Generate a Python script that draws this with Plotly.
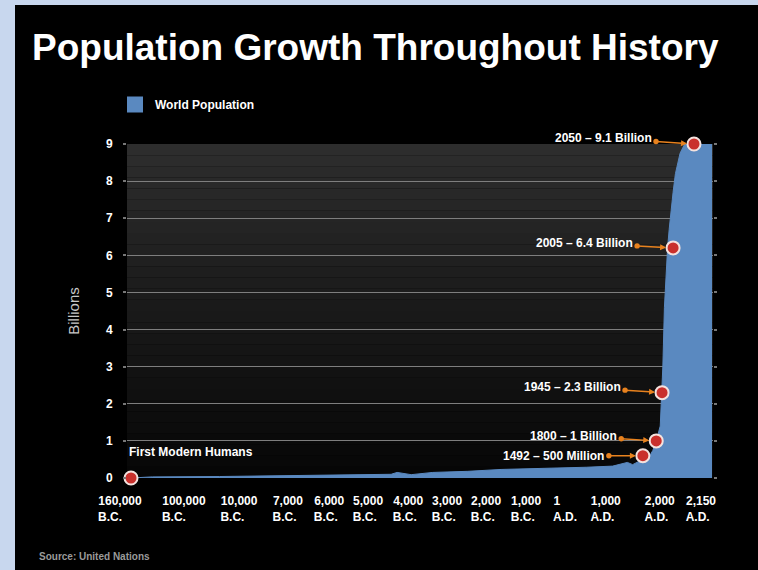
import numpy as np
import plotly.graph_objects as go

# ---------------- data ----------------
# Tick labels on the timeline axis
tick_years = [-160000, -100000, -10000, -7000, -6000, -5000, -4000,
              -3000, -2000, -1000, 1, 1000, 2000, 2150]
tick_line1 = ["160,000", "100,000", "10,000", "7,000", "6,000", "5,000", "4,000",
              "3,000", "2,000", "1,000", "1", "1,000", "2,000", "2,150"]
tick_line2 = ["B.C.", "B.C.", "B.C.", "B.C.", "B.C.", "B.C.", "B.C.",
              "B.C.", "B.C.", "B.C.", "A.D.", "A.D.", "A.D.", "A.D."]

# World population (billions) by year (negative = B.C.)
pop_years = [-160000, -140000, -60000, -7750, -5650, -4700, -4550, -4200, -3650,
             -2750, -1900, -650, 250, 900, 1200, 1300, 1492, 1650, 1720, 1800,
             1900, 1945, 1950, 1960, 1970, 1980, 1990, 2000, 2005, 2010, 2020,
             2030, 2050, 2150]
pop_values = [0.0, 0.03, 0.04, 0.06, 0.07, 0.10, 0.15, 0.09, 0.15,
              0.18, 0.23, 0.26, 0.29, 0.32, 0.42, 0.36, 0.50, 0.60, 0.74, 1.0,
              1.4, 2.3, 3.0, 4.6, 5.6, 6.2, 6.7, 7.2, 7.7, 8.2, 8.75,
              9.0, 9.0, 9.0]

# Highlighted milestones
milestone_years = [-160000, 1492, 1800, 1945, 2005, 2050]
milestone_values = [0.0, 0.6, 1.0, 2.3, 6.2, 9.0]
milestone_labels = ["First Modern Humans", "1492 – 500 Million", "1800 – 1 Billion",
                    "1945 – 2.3 Billion", "2005 – 6.4 Billion", "2050 – 9.1 Billion"]

# ---------------- non-linear timeline axis scale ----------------
# year -> timeline position (0 .. 100), piecewise linear like the original chart
scale_years = [-160000, -100000, -10000, -7000, -6000, -5000, -4000, -3000, -2000,
               -1000, 1, 1000, 1492, 1800, 1945, 2000, 2005, 2050, 2150]
scale_pos = [0.0, 11.0, 20.5, 28.9, 36.0, 42.7, 49.6, 56.3, 63.0,
             69.9, 76.6, 83.6, 88.1, 90.4, 91.4, 92.9, 93.3, 96.9, 100.0]


def tpos(years):
    return np.interp(np.asarray(years, dtype=float), scale_years, scale_pos)


# ---------------- layout geometry ----------------
W, H = 758, 570
L, R, T, B = 127, 45, 144, 92
PW, PH = W - L - R, H - T - B


def pxx(px):
    return (px - L) / PW


def pxy(py):
    return (H - B - py) / PH


FONT = "Liberation Sans, Arial, sans-serif"
BLUE = "#5a89c0"
ORANGE = "#e8821e"

# build left-aligned two-line tick labels (pad with no-break spaces)
char_w = {**{d: 0.556 for d in "0123456789"}, ",": 0.278, ".": 0.278,
          "B": 0.722, "C": 0.722, "A": 0.722, "D": 0.722}
nb_w = 0.278


def width(s):
    return sum(char_w.get(c, 0.556) for c in s)


ticktext = []
for a, b in zip(tick_line1, tick_line2):
    wa, wb = width(a), width(b)
    if wa > wb:
        b = b + "\u00a0" * int(round((wa - wb) / nb_w))
    else:
        a = a + "\u00a0" * int(round((wb - wa) / nb_w))
    ticktext.append(a + "<br>" + b)

tickvals = list(tpos(tick_years))

fig = go.Figure()

fig.add_trace(go.Scatter(
    x=tpos(pop_years), y=pop_values, mode="lines", fill="tozeroy",
    fillcolor=BLUE, line=dict(color=BLUE, width=1), showlegend=False,
    hoverinfo="skip"))

# legend swatch
fig.add_trace(go.Scatter(
    x=[None], y=[None], mode="markers", name="World Population",
    marker=dict(symbol="square", size=16, color=BLUE)))

fig.add_trace(go.Scatter(
    x=tpos(milestone_years), y=milestone_values, mode="markers",
    marker=dict(size=13, color="#c9302c", line=dict(color="#f4e2de", width=2)),
    showlegend=False, cliponaxis=False, hoverinfo="skip"))

# gradient plot background
shapes = []
n = 30
top_c = np.array([0x2e, 0x2e, 0x2e])
bot_c = np.array([0x06, 0x06, 0x06])
for i in range(n):
    f = (i + 0.5) / n
    c = (bot_c + (top_c - bot_c) * f).astype(int)
    shapes.append(dict(type="rect", xref="paper", yref="paper",
                       x0=0, x1=1, y0=i / n, y1=(i + 1) / n,
                       fillcolor="rgb(%d,%d,%d)" % tuple(c), line=dict(width=0),
                       layer="below"))
# slide border (light blue)
shapes.append(dict(type="rect", xref="paper", yref="paper",
                   x0=pxx(0), x1=pxx(15), y0=pxy(H), y1=pxy(0),
                   fillcolor="#c8d7ee", line=dict(width=0), layer="below"))
shapes.append(dict(type="rect", xref="paper", yref="paper",
                   x0=pxx(0), x1=pxx(W), y0=pxy(5), y1=pxy(0),
                   fillcolor="#c8d7ee", line=dict(width=0), layer="below"))

annotations = []
# arrow offsets (pixels) from each milestone to its label
offsets = {1492: (-89, 0), 1800: (-83, -5), 1945: (-90, -6), 2005: (-89, -5), 2050: (-91, -6)}
for yr, val, lab in zip(milestone_years, milestone_values, milestone_labels):
    if yr in offsets:
        ax, ay = offsets[yr]
        annotations.append(dict(
            x=float(tpos([yr])[0]), y=val, xref="x", yref="y", text="<b>%s</b>" % lab,
            showarrow=True, ax=ax, ay=ay, arrowcolor=ORANGE, arrowwidth=1.5,
            arrowhead=2, arrowsize=0.8, standoff=7, arrowside="end+start",
            startarrowhead=6, startarrowsize=0.9, startstandoff=3,
            font=dict(family=FONT, size=12, color="white")))
    else:
        annotations.append(dict(
            x=float(tpos([yr])[0]), y=val, xref="x", yref="y", text="<b>%s</b>" % lab,
            showarrow=False, xanchor="left", yanchor="middle", xshift=-4, yshift=26,
            font=dict(family=FONT, size=12, color="white")))

annotations.append(dict(
    x=pxx(37), y=pxy(556), xref="paper", yref="paper", xanchor="left", yanchor="middle",
    text="<b>Source: United Nations</b>", showarrow=False,
    font=dict(family=FONT, size=10, color="#9a9a9a")))

fig.update_layout(
    width=W, height=H,
    margin=dict(l=L, r=R, t=T, b=B),
    paper_bgcolor="#000000", plot_bgcolor="#000000",
    font=dict(family=FONT, color="white"),
    title=dict(text="<b>Population Growth Throughout History</b>",
               x=32 / W, xanchor="left", xref="container",
               y=1 - 47 / H, yanchor="middle", yref="container",
               font=dict(family=FONT, size=37, color="white")),
    showlegend=True,
    legend=dict(x=pxx(115), y=pxy(90), xanchor="left", yanchor="top",
                orientation="h", bgcolor="rgba(0,0,0,0)",
                font=dict(family=FONT, size=12, color="white", weight="bold")),
    xaxis=dict(range=[-0.69, 100.17], showgrid=False, zeroline=False,
               showline=False, ticks="", tickvals=tickvals, ticktext=ticktext,
               tickfont=dict(family=FONT, size=12, color="white", weight="bold"),
               ticklabelstandoff=14, ticklabelshift=-11, fixedrange=True),
    yaxis=dict(range=[0, 9], dtick=1, showgrid=True, gridcolor="#7e7e7e", gridwidth=1,
               zeroline=False, showline=False, ticks="outside", ticklen=3, tickwidth=2,
               tickcolor="#777777", mirror="ticks",
               tickfont=dict(family=FONT, size=12, color="white", weight="bold"),
               ticklabelstandoff=8,
               title=dict(text="Billions", standoff=22,
                          font=dict(family=FONT, size=15, color="#c8c8c8")),
               fixedrange=True),
    shapes=shapes,
    annotations=annotations,
)

fig.write_html("out.html")
